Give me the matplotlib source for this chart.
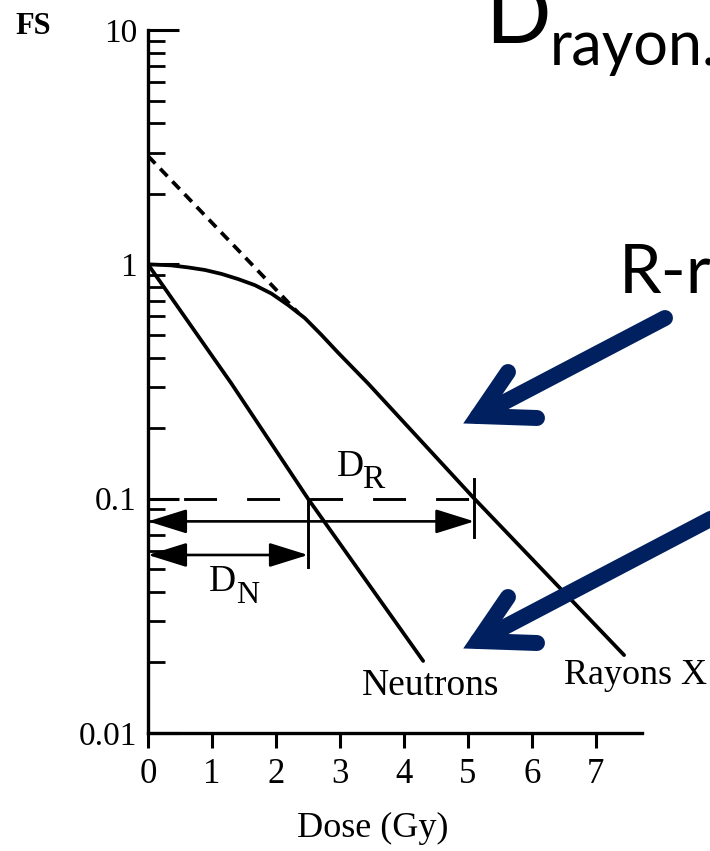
import matplotlib.pyplot as plt
from matplotlib.lines import Line2D

# valeurs (dose en Gy, fraction de survie)
dose_rx = [0, 0.36, 0.63, 0.89, 1.15, 1.41, 1.67, 1.93, 2.19, 2.45, 2.71, 2.97, 3.44, 5.1, 7.44]
fs_rx = [1.0, 0.99, 0.97, 0.946, 0.91, 0.865, 0.815, 0.75, 0.67, 0.59, 0.50, 0.42, 0.31, 0.1, 0.0215]
dose_neutrons = [0, 1.3, 2.5, 4.3]
fs_neutrons = [1.0, 0.311, 0.1, 0.0203]
dose_extrap = [0, 2.35]
fs_extrap = [2.9, 0.62]

D_N = 2.5
D_R = 5.1
fs_ref = 0.1
fs_fleche_r = 0.08
fs_fleche_n = 0.0575
trait_r = [0.121, 0.0686]
trait_n = [0.1, 0.051]

x_ticks = [0, 1, 2, 3, 4, 5, 6, 7]
y_ticks = [0.01, 0.1, 1, 10]
y_labels = ["0.01", "0.1", "1", "10"]

serif = "Liberation Serif"
navy = "#002060"
W, H = 710, 851

fig = plt.figure(figsize=(W / 100, H / 100), dpi=100)
ax = fig.add_axes([148 / W, 118 / H, 494 / W, 703 / H])

ax.plot(dose_rx, fs_rx, color="k", lw=2.7, solid_capstyle="round")
ax.plot(dose_neutrons, fs_neutrons, color="k", lw=2.7, solid_capstyle="round")
ax.plot(dose_extrap, fs_extrap, color="k", lw=2.7, linestyle=(0, (2.8, 1.9)))
ax.plot([0, D_R], [fs_ref, fs_ref], color="k", lw=2.1, linestyle=(9.4, (11.3, 10.3)))

ax.plot([D_R, D_R], trait_r, color="k", lw=2.1)
ax.plot([D_N, D_N], trait_n, color="k", lw=2.1)
for x_fin, y_f in [(D_R, fs_fleche_r), (D_N, fs_fleche_n)]:
    ax.annotate("", xy=(x_fin, y_f), xytext=(0, y_f),
                arrowprops=dict(arrowstyle="<|-|>,head_length=2.4,head_width=0.75",
                                lw=1.9, color="k", shrinkA=0, shrinkB=0,
                                mutation_scale=10))

ax.set_yscale("log")
ax.set_xlim(0, 7.72)
ax.set_ylim(0.01, 10)
ax.set_xticks(x_ticks)
ax.set_xticklabels([str(v) for v in x_ticks], fontfamily=serif, fontsize=25)
ax.set_yticks(y_ticks)
ax.set_yticklabels(y_labels, fontfamily=serif, fontsize=24)
ax.spines["top"].set_visible(False)
ax.spines["right"].set_visible(False)
ax.spines["left"].set_linewidth(2.4)
ax.spines["bottom"].set_linewidth(2.4)
ax.tick_params(axis="y", which="major", direction="in", length=22, width=2.2, pad=8)
ax.tick_params(axis="y", which="minor", direction="in", length=12, width=2)
ax.tick_params(axis="x", direction="out", length=11, width=2.2, pad=7)

ax.set_xlabel("Dose (Gy)", fontfamily=serif, fontsize=26)
ax.xaxis.set_label_coords(0.455, -0.112)
ax.set_ylabel("FS", fontfamily=serif, fontsize=22, fontweight="bold",
              rotation=0, ha="center", va="center")
ax.yaxis.set_label_coords(-0.233, 1.005)

# calque en pixels pour les annotations
ov = fig.add_axes([0, 0, 1, 1], zorder=5)
ov.set_xlim(0, W)
ov.set_ylim(H, 0)
ov.axis("off")
ov.patch.set_alpha(0)

ov.text(337, 476, "D", fontfamily=serif, fontsize=27, va="baseline")
ov.text(362, 488, "R", fontfamily=serif, fontsize=24, va="baseline")
ov.text(209, 591, "D", fontfamily=serif, fontsize=27, va="baseline")
ov.text(236, 603, "N", fontfamily=serif, fontsize=23, va="baseline")
ov.text(431, 695, "Neutrons", fontfamily=serif, fontsize=27, ha="center", va="baseline")
ov.text(635, 684, "Rayons X", fontfamily=serif, fontsize=26, ha="center", va="baseline")

ov.text(485, 43, "D", fontfamily="Lato", fontsize=62, va="baseline")
ov.text(550, 65, "rayon.", fontfamily="Lato", fontsize=44, va="baseline")
ov.text(619, 293, "R-r", fontfamily="Lato", fontsize=49, va="baseline")

# flèches bleues
for dy, queue in [(0, (665, 318)), (225, (760, 268 + 225))]:
    vx, vy = 478, 416 + dy
    ov.add_line(Line2D([queue[0], vx], [queue[1], vy], color=navy, lw=11.5,
                       solid_capstyle="round"))
    ov.add_line(Line2D([508, vx, 537], [372 + dy, vy, 418 + dy], color=navy, lw=11.5,
                       solid_capstyle="round", solid_joinstyle="miter"))

fig.savefig("out.png", dpi=100)
